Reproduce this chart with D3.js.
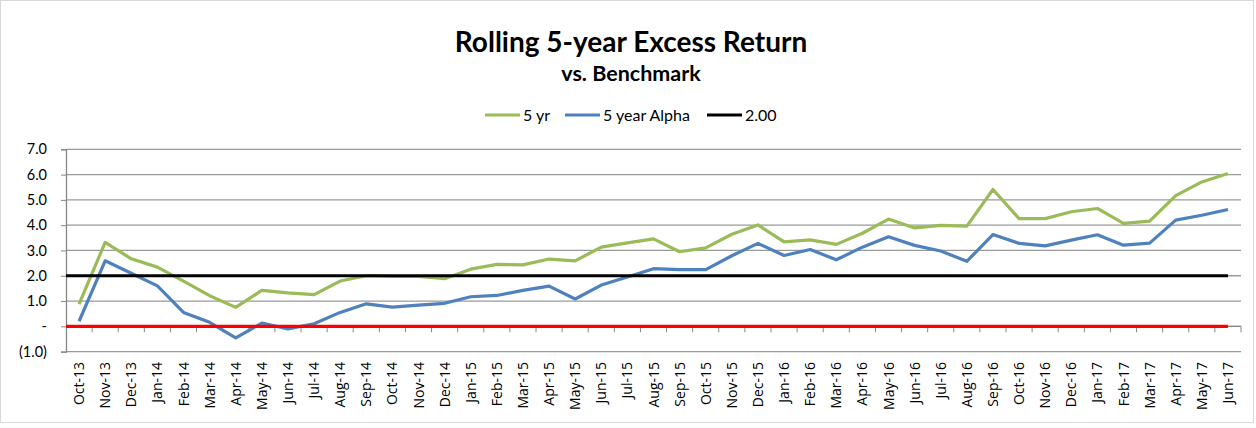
<!DOCTYPE html>
<html>
<head>
<meta charset="utf-8">
<script src="https://cdn.jsdelivr.net/npm/d3@7"></script>
<style>
  body { margin: 0; background: #fff; }
  text { font-family: Lato, "Open Sans", sans-serif; fill: #000; }
</style>
</head>
<body>
<svg id="chart"></svg>
<script>
// months on the category axis
var months = ["Oct-13","Nov-13","Dec-13","Jan-14","Feb-14","Mar-14","Apr-14","May-14","Jun-14","Jul-14",
  "Aug-14","Sep-14","Oct-14","Nov-14","Dec-14","Jan-15","Feb-15","Mar-15","Apr-15","May-15","Jun-15",
  "Jul-15","Aug-15","Sep-15","Oct-15","Nov-15","Dec-15","Jan-16","Feb-16","Mar-16","Apr-16","May-16",
  "Jun-16","Jul-16","Aug-16","Sep-16","Oct-16","Nov-16","Dec-16","Jan-17","Feb-17","Mar-17","Apr-17",
  "May-17","Jun-17"];

// 5 yr excess return
var fiveYr = [0.88,3.32,2.67,2.34,1.79,1.21,0.75,1.42,1.32,1.25,
  1.79,2.0,1.97,1.97,1.88,2.26,2.45,2.43,2.66,2.59,3.13,
  3.3,3.46,2.95,3.1,3.64,4.01,3.34,3.42,3.24,3.68,4.24,
  3.89,3.99,3.96,5.41,4.26,4.26,4.53,4.66,4.07,4.16,5.17,
  5.71,6.04];

// 5 year alpha
var alpha = [0.2,2.59,2.1,1.6,0.55,0.16,-0.46,0.13,-0.1,0.1,
  0.55,0.89,0.76,0.84,0.91,1.17,1.22,1.42,1.59,1.08,1.63,
  1.95,2.28,2.24,2.24,2.79,3.28,2.8,3.04,2.63,3.13,3.54,
  3.2,2.98,2.57,3.63,3.28,3.18,3.41,3.62,3.21,3.29,4.2,
  4.39,4.62];

var target = 2.0;
var yTicks = [-1, 0, 1, 2, 3, 4, 5, 6, 7];

var width = 1256, height = 428;
var svg = d3.select("#chart").attr("width", width).attr("height", height);

// outer frame
svg.append("rect")
    .attr("x", 0.5).attr("y", 0.5)
    .attr("width", 1253).attr("height", 422)
    .attr("fill", "none")
    .attr("stroke", "#d9d9d9");

var x = d3.scaleBand().domain(months).range([66, 1241]).padding(0);
var y = d3.scaleLinear().domain([-1, 7]).range([351.6, 149.3]);
var cx = function(m) { return x(m) + x.bandwidth() / 2; };

// title
svg.append("text")
    .attr("x", 631).attr("y", 52)
    .attr("text-anchor", "middle")
    .style("font-size", "28px").style("font-weight", "bold")
    .text("Rolling 5-year Excess Return");
svg.append("text")
    .attr("x", 631).attr("y", 81)
    .attr("text-anchor", "middle")
    .style("font-size", "21.5px").style("font-weight", "bold")
    .text("vs. Benchmark");

// gridlines
svg.append("g")
    .selectAll("line")
    .data(yTicks)
    .enter()
    .append("line")
    .attr("x1", 66).attr("x2", 1241)
    .attr("y1", function(d) { return y(d); })
    .attr("y2", function(d) { return y(d); })
    .attr("stroke", "#9a9a9a")
    .attr("stroke-width", 1.3);

// y axis
var yAxis = d3.axisLeft(y)
    .tickValues(yTicks)
    .tickSize(5)
    .tickPadding(14)
    .tickFormat(function(d) {
        if (d === 0) return "-";
        if (d < 0) return "(" + d3.format(".1f")(-d) + ")";
        return d3.format(".1f")(d);
    });
var gy = svg.append("g").attr("transform", "translate(66,0)").call(yAxis);
gy.select(".domain").attr("stroke", "#868686").attr("stroke-width", 1.3);
gy.selectAll(".tick line").attr("stroke", "#868686");
gy.selectAll("text").style("font-size", "14.5px").style("font-family", "Lato, sans-serif");

// x axis at zero with ticks on the category borders
var gx = svg.append("g").attr("transform", "translate(0," + y(0) + ")");
gx.append("line")
    .attr("x1", 66).attr("x2", 1241)
    .attr("stroke", "#868686").attr("stroke-width", 1.3);
gx.selectAll(".tk")
    .data(months)
    .enter()
    .append("line")
    .attr("class", "tk")
    .attr("x1", function(d) { return x(d) + x.bandwidth(); })
    .attr("x2", function(d) { return x(d) + x.bandwidth(); })
    .attr("y1", 0).attr("y2", 6)
    .attr("stroke", "#868686");

svg.append("g")
    .selectAll("text")
    .data(months)
    .enter()
    .append("text")
    .attr("transform", function(d) { return "translate(" + (cx(d) + 5) + ",362) rotate(-90)"; })
    .attr("text-anchor", "end")
    .style("font-size", "14px")
    .style("font-family", "'Open Sans', sans-serif")
    .text(function(d) { return d; });

// series lines
var line = d3.line()
    .x(function(d, i) { return cx(months[i]); })
    .y(function(d) { return y(d); });

svg.append("path")
    .datum(fiveYr)
    .attr("d", line)
    .attr("fill", "none")
    .attr("stroke", "#9bbb59")
    .attr("stroke-width", 3.2)
    .attr("stroke-linejoin", "round");

svg.append("path")
    .datum(alpha)
    .attr("d", line)
    .attr("fill", "none")
    .attr("stroke", "#4f81bd")
    .attr("stroke-width", 3.2)
    .attr("stroke-linejoin", "round");

// target and zero lines
var xEnd = cx(months[months.length - 1]);
svg.append("line")
    .attr("x1", 66).attr("x2", xEnd)
    .attr("y1", y(target)).attr("y2", y(target))
    .attr("stroke", "#000").attr("stroke-width", 3.2);
svg.append("line")
    .attr("x1", 66).attr("x2", xEnd)
    .attr("y1", y(0)).attr("y2", y(0))
    .attr("stroke", "#ff0000").attr("stroke-width", 3.2);

// legend
var legend = [
    { name: "5 yr", color: "#9bbb59", x: 485 },
    { name: "5 year Alpha", color: "#4f81bd", x: 565 },
    { name: "2.00", color: "#000", x: 707 }
];
var lg = svg.append("g")
    .selectAll("g")
    .data(legend)
    .enter()
    .append("g")
    .attr("transform", function(d) { return "translate(" + d.x + ",115)"; });
lg.append("line")
    .attr("x1", 0).attr("x2", 35)
    .attr("stroke", function(d) { return d.color; })
    .attr("stroke-width", 3);
lg.append("text")
    .attr("x", 38).attr("y", 5.5)
    .style("font-size", "16px")
    .text(function(d) { return d.name; });
</script>
</body>
</html>
